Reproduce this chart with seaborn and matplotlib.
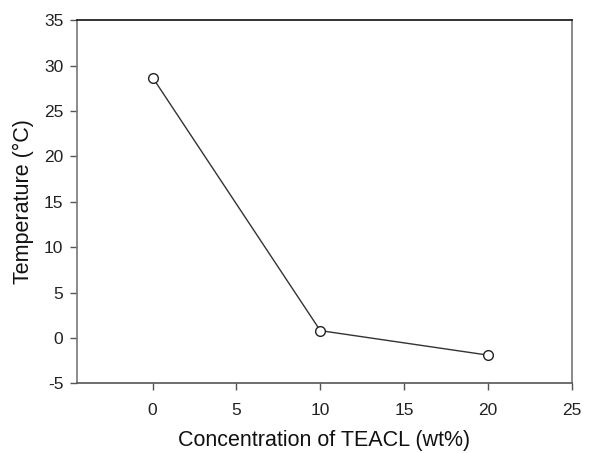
import matplotlib
matplotlib.use("Agg")
import matplotlib.pyplot as plt
import seaborn as sns
import pandas as pd

concentration = [0, 10, 20]
temperature = [28.7, 0.8, -1.9]
x_ticks = [0, 5, 10, 15, 20, 25]
y_ticks = [-5, 0, 5, 10, 15, 20, 25, 30, 35]

sns.set_theme(style="ticks")
plt.rcParams['font.family'] = ['Liberation Sans', 'DejaVu Sans']
plt.rcParams['axes.unicode_minus'] = False

df = pd.DataFrame({"conc": concentration, "temp": temperature})

fig = plt.figure(figsize=(5.94, 4.53), dpi=100)
ax = fig.add_axes([0.130, 0.154, 0.8325, 0.801])
sns.lineplot(data=df, x="conc", y="temp", ax=ax, color="#333333", linewidth=1.0,
             marker="o", markersize=7, markerfacecolor="white",
             markeredgecolor="#222222", markeredgewidth=1.0)
ax.set_xlim(-4.5, 25)
ax.set_ylim(-5, 35)
ax.set_xticks(x_ticks)
ax.set_yticks(y_ticks)
ax.tick_params(direction="out", length=5, width=1, colors="#555555",
               labelcolor="#222222", labelsize=12.5, top=False, right=False)
ax.tick_params(axis="x", pad=9)
ax.tick_params(axis="y", pad=5)
for s in ax.spines.values():
    s.set_visible(True)
    s.set_linewidth(1.2)
ax.spines['top'].set_color("#111111")
ax.spines['left'].set_color("#777777")
ax.spines['right'].set_color("#777777")
ax.spines['bottom'].set_color("#555555")
ax.set_xlabel("Concentration of TEACL (wt%)", fontsize=15.5, color="#111111", labelpad=9)
ax.set_ylabel("Temperature (°C)", fontsize=15.5, color="#111111", labelpad=7)
fig.savefig("out.png", dpi=100)
